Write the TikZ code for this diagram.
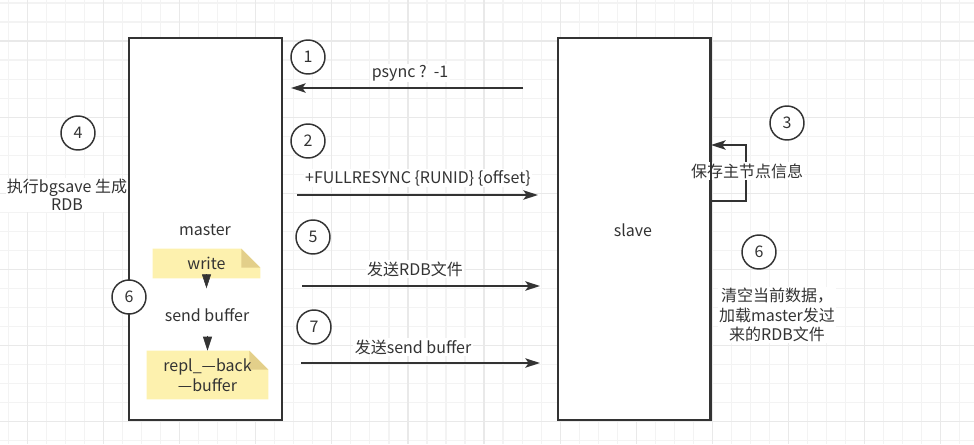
\documentclass[tikz,border=0pt]{standalone}
\usepackage{fontspec}
\setmainfont{Noto Sans CJK SC}
\usetikzlibrary{arrows.meta}
\pgfdeclarelayer{gridlayer}
\pgfdeclarelayer{boxlayer}
\pgfdeclarelayer{notelayer}
\pgfsetlayers{gridlayer,boxlayer,notelayer,main}
\definecolor{ink}{HTML}{333333}
\definecolor{gridminor}{HTML}{F3F3F3}
\definecolor{gridmajor}{HTML}{E9E9E9}
\definecolor{notefill}{HTML}{FDF1AE}
\definecolor{notefold}{HTML}{E3CF8A}
\begin{document}
\begin{tikzpicture}[x=0.75pt,y=-0.75pt,
  font=\fontsize{12pt}{15pt}\selectfont, text=ink,
  box/.style={draw=ink, line width=1.4pt, fill=white, minimum width=114.75pt, minimum height=286.5pt},
  num/.style={circle, draw=ink, line width=1.1pt, fill=white, minimum size=25.5pt, inner sep=0pt},
  lbl/.style={fill=white, inner sep=1pt},
  arr/.style={draw=ink, line width=1.4pt, -{Stealth[length=11pt,width=7pt,inset=2.5pt]}},
  tri/.style={draw=ink, line width=0.4pt, -{Triangle[length=10.5pt,width=6.75pt]}},
  notebox/.style={inner sep=0pt, align=center}]
\useasboundingbox (0,0) rectangle (974,444);
% grid
\begin{pgfonlayer}{gridlayer}
\fill[white] (0,0) rectangle (974,444);
\foreach \i in {0,...,50} \draw[gridminor, line width=0.9pt] ({8.3+19.03*\i},0) -- ++(0,444);
\foreach \j in {0,...,23} \draw[gridminor, line width=0.9pt] (0,{3+19.03*\j}) -- ++(974,0);
\foreach \i in {0,...,12} \draw[gridmajor, line width=0.9pt] ({27.3+76.12*\i},0) -- ++(0,444);
\foreach \j in {0,...,5} \draw[gridmajor, line width=0.9pt] (0,{41+76.12*\j}) -- ++(974,0);
\end{pgfonlayer}
% boxes
\begin{pgfonlayer}{boxlayer}
\node[box] (master) at (205.5,229) {};
\node[box, minimum width=114pt] (slave) at (634,229) {};
\end{pgfonlayer}
\node (mlab) at (205,230) {master};
\node (slab) at (633,230) {slave};
% notes inside master
\node[notebox, minimum width=80.25pt, minimum height=21.75pt] (w) at (206.5,263.5) {write};
\node (sb) at (207,315) {send buffer};
\node[notebox, minimum width=90.75pt, minimum height=36pt] (rb) at (207.5,375) {repl\_—back\\—buffer};
\begin{pgfonlayer}{notelayer}
\fill[notefill] (w.south west) -- (w.north west) -- ([xshift=-14.25pt]w.north east) -- ([yshift=-14.25pt]w.north east) -- (w.south east) -- cycle;
\fill[notefold] ([xshift=-14.25pt]w.north east) -- ([xshift=-14.25pt,yshift=-14.25pt]w.north east) -- ([yshift=-14.25pt]w.north east) -- cycle;
\fill[notefill] (rb.south west) -- (rb.north west) -- ([xshift=-14.25pt]rb.north east) -- ([yshift=-14.25pt]rb.north east) -- (rb.south east) -- cycle;
\fill[notefold] ([xshift=-14.25pt]rb.north east) -- ([xshift=-14.25pt,yshift=-14.25pt]rb.north east) -- ([yshift=-14.25pt]rb.north east) -- cycle;
\end{pgfonlayer}
\draw[tri] (w.south) -- ++(0,10);
\draw[tri] ([yshift=11.25pt]rb.north) -- (rb.north);
% messages
\coordinate (p1s) at (523,88); \coordinate (p1e) at (291,88);
\draw[arr] (p1s) -- (p1e);
\node[lbl] (t1) at (410,73) {psync ?\ \ -1};
\coordinate (p2s) at (297,195); \coordinate (p2e) at (538,195);
\draw[arr] (p2s) -- (p2e);
\node[lbl] (t2) at (418,178) {+FULLRESYNC \{RUNID\} \{offset\}};
\coordinate (p5s) at (302,286); \coordinate (p5e) at (540,286);
\draw[arr] (p5s) -- (p5e);
\node[lbl] (t5) at (415,269) {发送RDB文件};
\coordinate (p7s) at (301,363); \coordinate (p7e) at (540,363);
\draw[arr] (p7s) -- (p7e);
\node[lbl] (t7) at (413,347) {发送send buffer};
% self loop on slave
\draw[arr] (slave.east |- 0,201) -| (746,145) -- (slave.east |- 0,145);
\node[lbl] (t3) at (747,171) {保存主节点信息};
\draw[ink, line width=1.4pt] (slave.north east) -- (slave.south east);
% side notes
\node[lbl, align=center, font=\fontsize{12pt}{13.5pt}\selectfont] (t4) at (67,195) {执行bgsave 生成\\RDB};
\node[lbl, align=center, font=\fontsize{12pt}{14.6pt}\selectfont] (t6) at (777,315) {清空当前数据，\\ 加载master发过\\来的RDB文件};
% step numbers
\node[num] (c1) at (308,57) {1};
\node[num] (c2) at (308,141) {2};
\node[num] (c3) at (787,123) {3};
\node[num] (c4) at (78,133) {4};
\node[num] (c5) at (313,237) {5};
\node[num] (c6a) at (129,297) {6};
\node[num] (c6b) at (759,252) {6};
\node[num] (c7) at (314,327) {7};
\end{tikzpicture}
\end{document}
